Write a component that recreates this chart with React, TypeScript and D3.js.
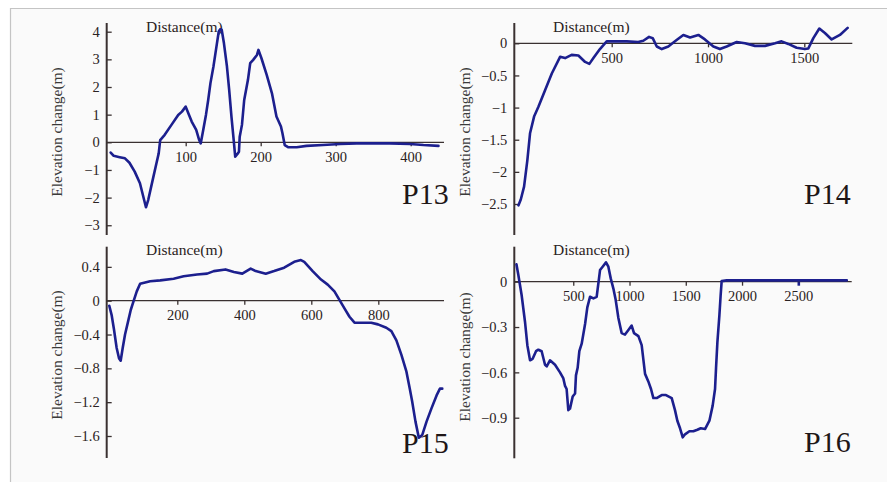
import React, { useEffect, useRef } from 'react';
import * as d3 from 'd3';

// P13 profile
const p13Dist = [0, 4, 12, 19, 25, 32, 39, 43.5, 47, 50, 56, 61, 64, 66, 72, 81, 90, 95, 100, 103.5, 108, 114, 118, 120, 123, 127, 130, 133, 137, 141, 144, 146, 148, 151, 155, 158, 161, 164, 166, 169, 171, 172, 175, 178, 183, 186, 190, 195, 197, 201, 208, 215, 221, 227, 229, 232, 237, 248, 261, 283, 306, 328, 372, 399, 417, 437];
const p13Elev = [-0.37, -0.49, -0.54, -0.58, -0.74, -1.06, -1.48, -1.97, -2.35, -2.09, -1.36, -0.76, -0.4, 0.08, 0.27, 0.63, 0.99, 1.11, 1.29, 1.05, 0.75, 0.45, 0.08, -0.04, 0.39, 0.99, 1.53, 2.14, 2.74, 3.46, 4.0, 4.09, 4.07, 3.58, 2.74, 1.89, 0.93, 0.08, -0.52, -0.42, -0.34, 0.2, 0.63, 1.53, 2.26, 2.86, 2.98, 3.16, 3.34, 3.04, 2.44, 1.77, 0.93, 0.57, 0.33, -0.1, -0.18, -0.18, -0.13, -0.1, -0.06, -0.04, -0.04, -0.06, -0.1, -0.13];
const p13XTicks = [100, 200, 300, 400];
const p13YTicks = [4, 3, 2, 1, 0, -1, -2, -3];

// P14 profile
const p14Dist = [16, 28, 45, 62, 76, 97, 119, 154, 189, 232, 258, 292, 327, 362, 384, 405, 439, 474, 526, 578, 638, 664, 694, 713, 734, 760, 794, 837, 872, 907, 950, 984, 1028, 1062, 1097, 1149, 1192, 1244, 1296, 1348, 1382, 1417, 1460, 1503, 1521, 1547, 1578, 1607, 1642, 1685, 1725];
const p14Elev = [-2.52, -2.43, -2.23, -1.82, -1.4, -1.14, -0.99, -0.73, -0.47, -0.21, -0.23, -0.18, -0.19, -0.29, -0.32, -0.23, -0.09, 0.03, 0.03, 0.03, 0.02, 0.04, 0.1, 0.08, -0.05, -0.09, -0.05, 0.05, 0.13, 0.09, 0.13, 0.06, -0.05, -0.09, -0.05, 0.02, 0, -0.04, -0.04, 0, 0.03, -0.01, -0.07, -0.09, -0.08, 0.08, 0.23, 0.16, 0.06, 0.13, 0.24];
const p14XTicks = [500, 1000, 1500];
const p14YTicks = [0, -0.5, -1, -1.5, -2, -2.5];

// P15 profile
const p15Dist = [-3, 4, 11, 19, 26, 31, 37, 44, 54, 61, 69, 79, 89, 119, 149, 189, 219, 259, 289, 309, 344, 369, 394, 419, 434, 464, 489, 519, 549, 569, 579, 604, 629, 649, 669, 684, 699, 714, 729, 749, 779, 799, 824, 839, 854, 869, 884, 894, 901, 911, 921, 931, 944, 959, 974, 984, 991];
const p15Elev = [-0.06, -0.17, -0.34, -0.56, -0.68, -0.71, -0.56, -0.4, -0.23, -0.11, -0.01, 0.11, 0.2, 0.23, 0.24, 0.26, 0.29, 0.31, 0.32, 0.35, 0.37, 0.34, 0.32, 0.38, 0.35, 0.32, 0.35, 0.39, 0.46, 0.48, 0.46, 0.35, 0.25, 0.19, 0.11, 0.01, -0.09, -0.19, -0.26, -0.26, -0.26, -0.28, -0.32, -0.36, -0.47, -0.64, -0.84, -1.04, -1.19, -1.43, -1.62, -1.59, -1.43, -1.27, -1.12, -1.04, -1.04];
const p15XTicks = [200, 400, 600, 800];
const p15YTicks = [0.4, 0, -0.4, -0.8, -1.2, -1.6];

// P16 profile
const p16Dist = [-5, 12, 41, 71, 92, 116, 139, 169, 190, 219, 249, 264, 293, 338, 382, 412, 427, 441, 456, 471, 495, 516, 524, 539, 554, 575, 605, 625, 649, 679, 708, 738, 761, 791, 812, 833, 856, 877, 901, 930, 960, 990, 1019, 1040, 1079, 1108, 1138, 1167, 1191, 1212, 1241, 1286, 1324, 1375, 1404, 1425, 1449, 1473, 1493, 1532, 1567, 1603, 1633, 1671, 1710, 1739, 1760, 1769, 1781, 1799, 1810, 1819, 1864, 2931];
const p16Elev = [0.115, 0.044, -0.088, -0.265, -0.42, -0.52, -0.51, -0.46, -0.45, -0.46, -0.55, -0.56, -0.52, -0.55, -0.6, -0.64, -0.69, -0.71, -0.85, -0.84, -0.76, -0.74, -0.62, -0.57, -0.46, -0.41, -0.28, -0.17, -0.1, -0.11, -0.1, 0.077, 0.099, 0.128, 0.099, 0.022, -0.044, -0.12, -0.24, -0.34, -0.35, -0.32, -0.29, -0.34, -0.36, -0.42, -0.61, -0.66, -0.71, -0.77, -0.77, -0.75, -0.75, -0.77, -0.85, -0.92, -0.97, -1.03, -1.01, -0.99, -0.99, -0.98, -0.97, -0.975, -0.92, -0.82, -0.71, -0.57, -0.4, -0.22, -0.088, 0.004, 0.009, 0.009];
const p16XTicks = [500, 1000, 1500, 2000, 2500];
const p16YTicks = [0, -0.3, -0.6, -0.9];

const names = ['P13', 'P14', 'P15', 'P16'];

const W = 887;
const H = 482;
const LINE = '#1c1f8e';
const AXIS = '#3a3131';
const FONT = '"Liberation Serif", "Times New Roman", serif';

// layout: axis x, x scale anchor px, y anchor px, vertical axis extents, zero-line end
const layouts = [
  { ax: 106.7, xd: [0, 400], xr: [110.7, 410.7], yd: [0, 4], yr: [142.3, 31.7], top: 23, bottom: 235, xEnd: 444, lx: 146, ly: 31.5, tx: 58, ty: 132, px: 402, py: 204 },
  { ax: 514.3, xd: [0, 1500], xr: [515.4, 804.3], yd: [0, -2.5], yr: [43.3, 204], top: 23, bottom: 235, xEnd: 852.3, lx: 553, ly: 31.5, tx: 466, ty: 132, px: 804, py: 204 },
  { ax: 106.7, xd: [0, 800], xr: [110.3, 378.3], yd: [0, -1.6], yr: [300.7, 436], top: 246.7, bottom: 458, xEnd: 444, lx: 146, ly: 255, tx: 58, ty: 355, px: 402, py: 453 },
  { ax: 514.3, xd: [0, 2500], xr: [517, 798.3], yd: [0, -0.9], yr: [281.7, 417.7], top: 246.7, bottom: 458.3, xEnd: 851.7, lx: 553, ly: 255, tx: 466, ty: 357, px: 804, py: 452 },
];

const series = [
  { dist: p13Dist, elev: p13Elev, xTicks: p13XTicks, yTicks: p13YTicks },
  { dist: p14Dist, elev: p14Elev, xTicks: p14XTicks, yTicks: p14YTicks },
  { dist: p15Dist, elev: p15Elev, xTicks: p15XTicks, yTicks: p15YTicks },
  { dist: p16Dist, elev: p16Elev, xTicks: p16XTicks, yTicks: p16YTicks },
];

const fmt = d3.format('~g');

function App() {
  const svgRef = useRef<SVGSVGElement>(null);

  useEffect(() => {
    const svg = d3.select(svgRef.current);
    svg.selectAll('*').remove();

    // frame
    svg.append('rect').attr('x', 10).attr('y', 8).attr('width', W - 10).attr('height', H - 8).attr('fill', '#fafafa');
    svg.append('line').attr('x1', 10).attr('x2', W).attr('y1', 8.5).attr('y2', 8.5).attr('stroke', '#c4c4c4').attr('stroke-width', 1.2);
    svg.append('line').attr('x1', 10.5).attr('x2', 10.5).attr('y1', 8).attr('y2', H).attr('stroke', '#c4c4c4').attr('stroke-width', 1.2);

    series.forEach((s, i) => {
      const L = layouts[i];
      const x = d3.scaleLinear().domain(L.xd).range(L.xr);
      const y = d3.scaleLinear().domain(L.yd).range(L.yr);
      const g = svg.append('g').style('font-family', FONT);
      const zeroY = y(0);

      // y axis
      const yAxis = g.append('g').attr('transform', `translate(${L.ax},0)`)
        .call(d3.axisLeft(y).tickValues(s.yTicks).tickFormat(fmt as any).tickSize(-5).tickSizeOuter(0).tickPadding(7));
      yAxis.attr('font-family', null).attr('font-size', null);
      yAxis.select('.domain').remove();
      yAxis.selectAll('line').attr('stroke', AXIS).attr('stroke-width', 1.3);
      yAxis.selectAll('text').style('font-family', FONT).style('font-size', '14.5px').attr('fill', '#2a2222');
      g.append('line').attr('x1', L.ax).attr('x2', L.ax).attr('y1', L.top).attr('y2', L.bottom)
        .attr('stroke', AXIS).attr('stroke-width', 2);

      // x axis along zero line
      const xAxis = g.append('g').attr('transform', `translate(0,${zeroY})`)
        .call(d3.axisBottom(x).tickValues(s.xTicks).tickFormat(fmt as any).tickSize(4).tickSizeOuter(0).tickPadding(5));
      xAxis.attr('font-family', null).attr('font-size', null);
      xAxis.select('.domain').remove();
      xAxis.selectAll('line').attr('stroke', AXIS).attr('stroke-width', 1.3);
      xAxis.selectAll('text').style('font-family', FONT).style('font-size', '14.5px').attr('fill', '#2a2222');
      if (i === 3) {
        xAxis.selectAll('.tick').filter((d: any) => d === 2500).select('line')
          .attr('stroke', LINE).attr('stroke-width', 2.6);
      }
      g.append('line').attr('x1', L.ax).attr('x2', L.xEnd).attr('y1', zeroY).attr('y2', zeroY)
        .attr('stroke', AXIS).attr('stroke-width', 1.3);

      // titles
      g.append('text').text('Distance(m)').attr('x', L.lx).attr('y', L.ly)
        .style('font-family', FONT).style('font-size', '15.5px').attr('fill', '#2a2222');
      g.append('text').text('Elevation change(m)')
        .attr('transform', `translate(${L.tx},${L.ty}) rotate(-90)`)
        .attr('text-anchor', 'middle').attr('dominant-baseline', 'middle')
        .style('font-family', FONT).style('font-size', '15.5px').attr('fill', '#3a3a3a');
      g.append('text').text(names[i]).attr('x', L.px).attr('y', L.py)
        .style('font-family', FONT).style('font-size', '30px').attr('fill', '#1e1616');

      // profile curve
      const pts = s.dist.map((d, k) => [d, s.elev[k]] as [number, number]);
      const lineFn = d3.line<[number, number]>().x(d => x(d[0])).y(d => y(d[1])).curve(d3.curveLinear);
      g.append('path').datum(pts).attr('d', lineFn).attr('fill', 'none')
        .attr('stroke', LINE).attr('stroke-width', 2.6)
        .attr('stroke-linejoin', 'round').attr('stroke-linecap', 'round');
    });
  }, []);

  return (
    <svg
      ref={svgRef}
      width={W}
      height={H}
      viewBox={`0 0 ${W} ${H}`}
      style={{ position: 'absolute', left: 0, top: 0, display: 'block', background: '#ffffff' }}
    />
  );
}

export default App;
